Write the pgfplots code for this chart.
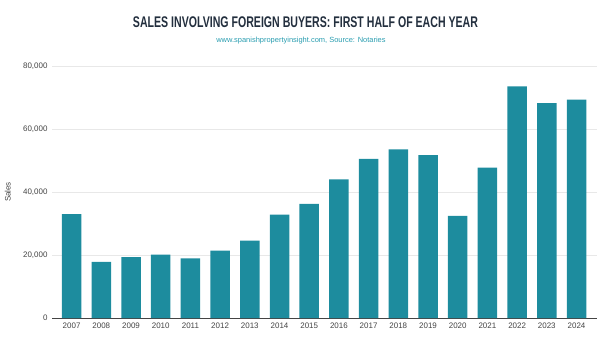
\documentclass[border=0pt]{standalone}
\usepackage{fontspec}
\setmainfont{Liberation Sans}
\usepackage{pgfplots}
\pgfplotsset{compat=1.18}
\definecolor{barc}{RGB}{29,140,158}
\definecolor{titlec}{RGB}{35,47,62}
\definecolor{subc}{RGB}{42,157,176}
\definecolor{gridc}{RGB}{232,232,232}
\definecolor{tickc}{RGB}{68,68,68}
\pgfplotstableread{
x y
0 33000
1 17800
2 19300
3 20100
4 18900
5 21400
6 24600
7 32800
8 36200
9 44000
10 50500
11 53500
12 51700
13 32400
14 47700
15 73500
16 68200
17 69300
}\sales
\begin{document}
\begin{tikzpicture}[x=1bp,y=1bp]
\useasboundingbox (0,0) rectangle (600,350);
\begin{axis}[
  at={(52bp,32bp)}, anchor=south west,
  scale only axis, width=545bp, height=252bp,
  ymin=0, ymax=80000, xmin=-0.66, xmax=17.69,
  axis x line*=bottom, axis y line*=left,
  x axis line style={-, draw=tickc, line width=0.8pt},
  y axis line style={draw=none},
  ytick={0,20000,40000,60000,80000},
  scaled y ticks=false,
  /pgf/number format/.cd, fixed, 1000 sep={,}, assume math mode=true,
  /pgfplots/.cd,
  xtick=data,
  xticklabels={2007,2008,2009,2010,2011,2012,2013,2014,2015,2016,2017,2018,2019,2020,2021,2022,2023,2024},
  major tick length=0,
  ymajorgrids, grid style={gridc, line width=0.9pt},
  tick label style={font=\fontsize{8}{9}\selectfont, text=tickc},
  xticklabel style={yshift=-1bp},
  yticklabel style={xshift=-1bp},
  ylabel={Sales},
  every axis y label/.style={at={(axis description cs:-0.081,0.5)}, rotate=90, anchor=center, font=\fontsize{8}{9}\selectfont, text=tickc},
  ybar, bar width=19.5bp, bar shift=0pt,
]
\addplot[fill=barc, draw=none] table[x=x,y=y]{\sales};
\end{axis}
\node[text=titlec] at (305.5,328) {\resizebox{345bp}{\height}{\bfseries\fontsize{15.5}{18}\selectfont SALES INVOLVING FOREIGN BUYERS: FIRST HALF OF EACH YEAR}};
\node[font=\fontsize{7.5}{9}\selectfont, text=subc] at (301,309) {www.spanishpropertyinsight.com, Source: Notaries};
\end{tikzpicture}
\end{document}
